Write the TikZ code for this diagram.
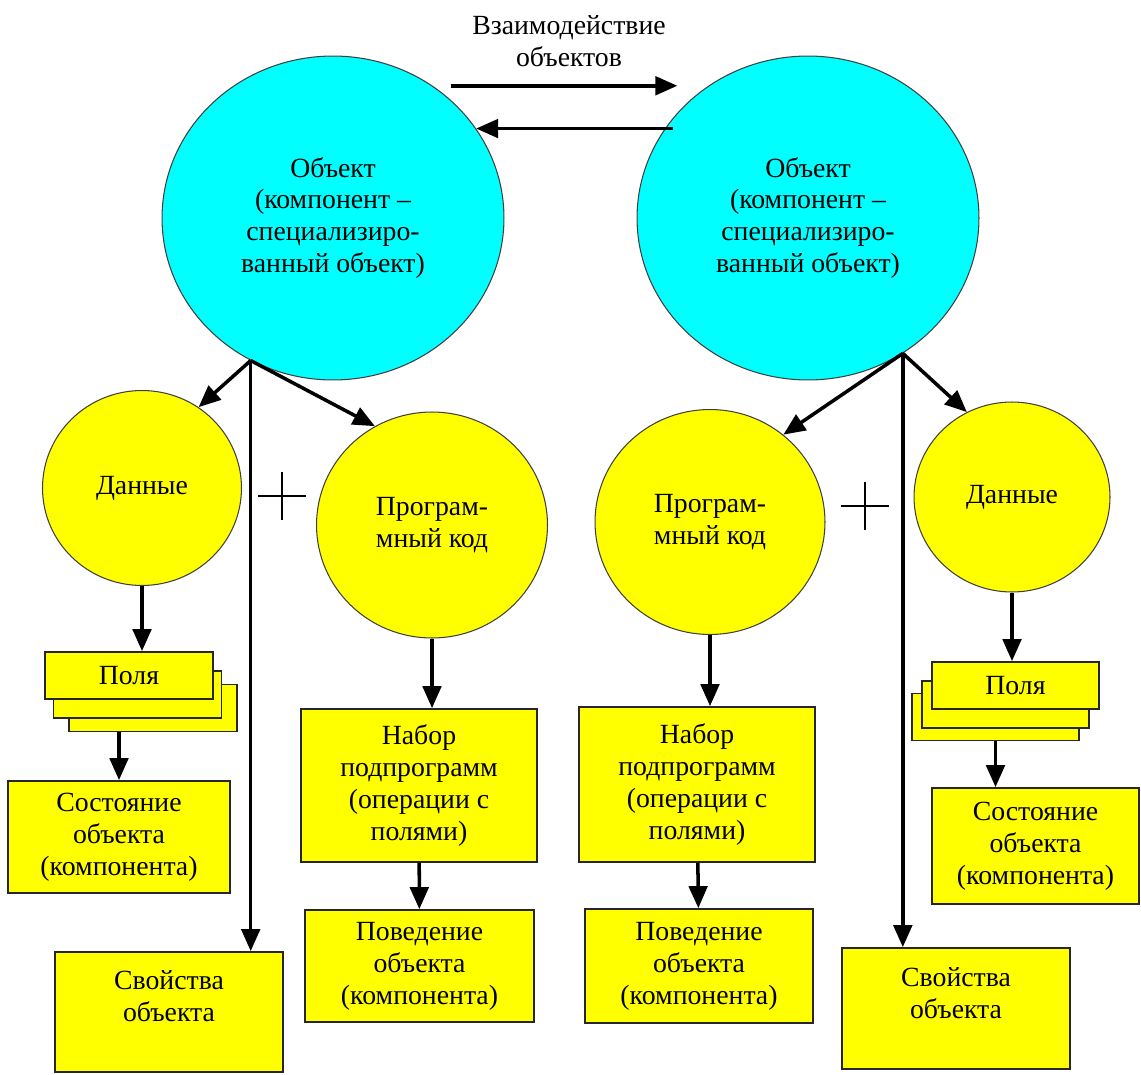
\documentclass[tikz,border=0pt]{standalone}
\usepackage{fontspec}
\setmainfont{Liberation Serif}
\newfontfamily\diagfont{Liberation Serif}
\usetikzlibrary{arrows.meta, shapes.geometric}

\definecolor{objcol}{RGB}{0,255,255}
\definecolor{partcol}{RGB}{255,255,0}

\tikzset{
  obj/.style={ellipse, draw=black!75, line width=0.6pt, fill=objcol, align=center, inner sep=0pt},
  part/.style={ellipse, draw=black!75, line width=0.6pt, fill=partcol, align=center, inner sep=0pt},
  box/.style={rectangle, draw=black!85, line width=1pt, fill=partcol, align=center, inner sep=0pt},
  link/.style={line width=2pt, -{Triangle[length=0.44cm, width=0.37cm]}},
  plus/.style={minimum size=0.96cm, inner sep=0pt, path picture={
    \draw[line width=1.5pt] (path picture bounding box.west) -- (path picture bounding box.east)
      (path picture bounding box.north) -- (path picture bounding box.south);}}
}

\begin{document}
\begin{tikzpicture}[x=0.02cm, y=-0.02cm, font=\diagfont\fontsize{15.8}{18.2}\selectfont]
\useasboundingbox (0,0) rectangle (1141,1074);

\path (569,41) node[align=center] (title) {Взаимодействие\\объектов}
	  (333,218) node[obj, minimum width=6.84cm, minimum height=6.48cm] (objL) {Объект\\(компонент –\\специализиро-\\ванный объект)}
	  (808,218) node[obj, minimum width=6.84cm, minimum height=6.48cm] (objR) {Объект\\(компонент –\\специализиро-\\ванный объект)}

	  (142,488) node[part, minimum width=3.98cm, minimum height=3.9cm] (dataL) {Данные}
	  (432,525) node[part, minimum width=4.62cm, minimum height=4.52cm] (progL) {Програм-\\мный код}
	  (710,522) node[part, minimum width=4.6cm, minimum height=4.5cm] (progR) {Програм-\\мный код}
	  (1012,497) node[part, minimum width=3.92cm, minimum height=3.8cm] (dataR) {Данные}

	  (282,496) node[plus] (plusL) {}
	  (865,506) node[plus] (plusR) {}

	  (153,708) node[box, minimum width=3.36cm, minimum height=0.94cm] (fieldsL3) {}
	  (137.5,694.5) node[box, minimum width=3.36cm, minimum height=0.94cm] (fieldsL2) {}
	  (129,675.5) node[box, minimum width=3.36cm, minimum height=0.94cm] (fieldsL) {Поля}
	  (995.5,717) node[box, minimum width=3.34cm, minimum height=0.94cm] (fieldsR3) {}
	  (1005.5,704.5) node[box, minimum width=3.34cm, minimum height=0.94cm] (fieldsR2) {}
	  (1015.5,685.5) node[box, minimum width=3.34cm, minimum height=0.94cm] (fieldsR) {Поля}

	  (119,837) node[box, minimum width=4.44cm, minimum height=2.24cm] (stateL) {Состояние\\объекта\\(компонента)}
	  (169,1012) node[box, minimum width=4.56cm, minimum height=2.4cm] (propL) {Свойства\\объекта\\~}
	  (419,785.5) node[box, minimum width=4.72cm, minimum height=3.06cm] (setL) {Набор\\подпрограмм\\(операции с\\полями)}
	  (419.5,966) node[box, minimum width=4.58cm, minimum height=2.24cm] (behL) {Поведение\\объекта\\(компонента)}
	  (697,784.5) node[box, minimum width=4.72cm, minimum height=3.1cm] (setR) {Набор\\подпрограмм\\(операции с\\полями)}
	  (699,966) node[box, minimum width=4.56cm, minimum height=2.28cm] (behR) {Поведение\\объекта\\(компонента)}
	  (1035.5,846) node[box, minimum width=4.14cm, minimum height=2.32cm] (stateR) {Состояние\\объекта\\(компонента)}
	  (956,1008.5) node[box, minimum width=4.56cm, minimum height=2.42cm] (propR) {Свойства\\объекта\\~};

\draw[link, shorten <=0.36cm, shorten >=0.62cm] (objL.53) to (objR.127);
\draw[link, shorten <=-0.16cm] (objR.148) to (objL.32);

\draw[link] (objL.240) to (dataL.55);
\draw[link] (objL.240) to (progL.120);
\draw[link] (objL.240) to (objL.240 |- propL.north);
\draw[link] (objR.305) to (progR.50);
\draw[link] (objR.305) to (dataR.118);
\draw[link] (objR.305) to (objR.305 |- propR.north);

\draw[link] (dataL) to (dataL |- fieldsL.north);
\draw[link] (fieldsL3.south -| stateL.north) to (stateL.north);
\draw[link] (progL) to (progL |- setL.north);
\draw[link] (setL) to (behL);

\draw[link] (dataR) to (dataR |- fieldsR.north);
\draw[link] (fieldsR3) to (fieldsR3 |- stateR.north);
\draw[link] (progR) to (progR |- setR.north);
\draw[link] (setR) to (behR);

\end{tikzpicture}
\end{document}
